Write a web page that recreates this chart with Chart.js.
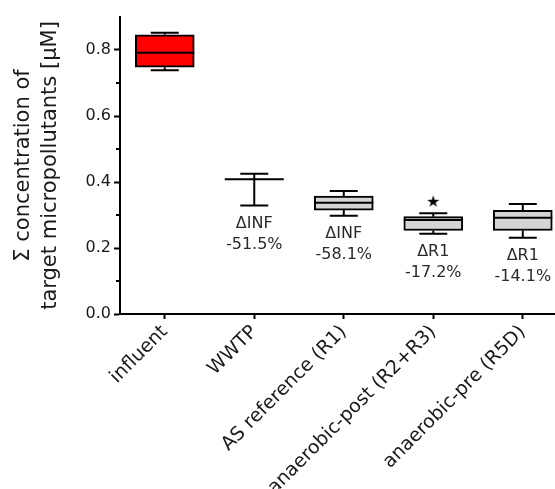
<!DOCTYPE html>
<html>
<head>
<meta charset="utf-8">
<script src="https://cdn.jsdelivr.net/npm/chart.js@4"></script>
<style>
html,body{margin:0;padding:0;background:#fff;overflow:hidden;}
#wrap{width:555px;height:489px;position:relative;}
</style>
</head>
<body>
<div id="wrap"><canvas id="c"></canvas></div>
<script>
// ---- data ----
const categories = ['influent', 'WWTP', 'AS reference (R1)', 'anaerobic-post (R2+R3)', 'anaerobic-pre (R5D)'];
const whiskerMin = [0.739, 0.329, 0.298, 0.243, 0.231];
const q1         = [0.748, 0.408, 0.315, 0.253, 0.253];
const median     = [0.792, 0.408, 0.337, 0.285, 0.292];
const q3         = [0.846, 0.408, 0.357, 0.295, 0.314];
const whiskerMax = [0.852, 0.425, 0.373, 0.305, 0.333];
const outlierValues = [null, null, null, 0.340, null];
const deltaRef = ['', '\u0394INF', '\u0394INF', '\u0394R1', '\u0394R1'];
const deltaPct = ['', '-51.5%', '-58.1%', '-17.2%', '-14.1%'];
const yTickValues = [0, 0.2, 0.4, 0.6, 0.8];
const yMinorTickValues = [0.1, 0.3, 0.5, 0.7];
const boxFill = ['#ff0000', '#d4d4d4', '#d4d4d4', '#d4d4d4', '#d4d4d4'];

const FONT = "'DejaVu Sans', sans-serif";
const TEXT = '#1a1a1a';

// star marker image for outlier points
const starImg = document.createElement('canvas');
starImg.width = 18; starImg.height = 18;
(function(){
  const c = starImg.getContext('2d');
  c.fillStyle = '#000';
  c.font = "16px 'DejaVu Sans'";
  c.textAlign = 'center';
  c.textBaseline = 'middle';
  c.fillText('\u2605', 9, 10);
})();

const boxPlugin = {
  id: 'boxParts',
  afterDatasetsDraw(chart) {
    const ctx = chart.ctx;
    const xs = chart.scales.x, ys = chart.scales.y;
    const boxW = 59, capW = 28;
    ctx.save();
    ctx.strokeStyle = '#000';
    ctx.lineWidth = 2;
    categories.forEach((c, i) => {
      const x = xs.getPixelForValue(i);
      const pMin = ys.getPixelForValue(whiskerMin[i]);
      const pQ1 = ys.getPixelForValue(q1[i]);
      const pMed = ys.getPixelForValue(median[i]);
      const pQ3 = ys.getPixelForValue(q3[i]);
      const pMax = ys.getPixelForValue(whiskerMax[i]);
      ctx.beginPath();
      ctx.moveTo(x, pQ3); ctx.lineTo(x, pMax);
      ctx.moveTo(x, pQ1); ctx.lineTo(x, pMin);
      ctx.moveTo(x - capW / 2, pMax); ctx.lineTo(x + capW / 2, pMax);
      ctx.moveTo(x - capW / 2, pMin); ctx.lineTo(x + capW / 2, pMin);
      ctx.moveTo(x - boxW / 2, pMed); ctx.lineTo(x + boxW / 2, pMed);
      ctx.stroke();
      if (deltaRef[i]) {
        ctx.fillStyle = '#2a2a2a';
        ctx.font = "16px " + FONT;
        ctx.textAlign = 'center';
        ctx.textBaseline = 'middle';
        ctx.fillText(deltaRef[i], x, pMin + 18);
        ctx.fillText(deltaPct[i], x, pMin + 39);
      }
    });
    ctx.beginPath();
    const ax = chart.chartArea.left;
    yMinorTickValues.forEach(v => {
      const py = Math.round(ys.getPixelForValue(v));
      ctx.moveTo(ax, py); ctx.lineTo(ax - 4, py);
    });
    ctx.stroke();
    ctx.restore();
  }
};

new Chart(document.getElementById('c'), {
  type: 'bar',
  data: {
    datasets: [
      {
        type: 'bar',
        data: categories.map((c, i) => ({ x: i, y: [q1[i], q3[i]] })),
        backgroundColor: boxFill,
        borderColor: '#000',
        borderWidth: 2,
        borderSkipped: false,
        barThickness: 59,
        order: 2
      },
      {
        type: 'scatter',
        data: outlierValues.map((v, i) => v == null ? null : ({ x: i, y: v })).filter(d => d),
        pointStyle: starImg,
        pointRadius: 8,
        order: 1
      }
    ]
  },
  options: {
    responsive: true,
    maintainAspectRatio: false,
    animation: false,
    devicePixelRatio: 1,
    layout: { autoPadding: false, padding: { top: 17, right: 0, left: 0, bottom: 0 } },
    plugins: { legend: { display: false }, tooltip: { enabled: false } },
    scales: {
      x: {
        type: 'linear',
        offset: false,
        min: -0.5,
        max: 4.36,
        afterBuildTicks: s => { s.ticks = categories.map((c, i) => ({ value: i })); },
        afterFit: s => { s.height = 175; s.paddingLeft = 0; s.paddingRight = 0; },
        grid: { display: true, offset: false, drawOnChartArea: false, drawTicks: true, tickLength: 5, tickWidth: 2, tickColor: '#000' },
        border: { display: true, color: '#000', width: 2 },
        ticks: {
          autoSkip: false,
          minRotation: 45,
          maxRotation: 45,
          padding: 2,
          color: TEXT,
          font: { family: FONT, size: 19 },
          callback: v => categories[v]
        }
      },
      y: {
        min: 0,
        max: 0.9,
        afterBuildTicks: s => { s.ticks = yTickValues.map(v => ({ value: v })); },
        afterFit: s => { s.width = 120; s.paddingTop = 0; s.paddingBottom = 0; },
        grid: { display: true, drawOnChartArea: false, drawTicks: true, tickLength: 6, tickWidth: 2, tickColor: '#000' },
        border: { display: true, color: '#000', width: 2 },
        ticks: {
          padding: 3,
          color: TEXT,
          font: { family: FONT, size: 16 },
          callback: v => v.toFixed(1)
        },
        title: {
          display: true,
          text: ['\u03A3 concentration of', 'target micropollutants [\u00B5M]'],
          color: TEXT,
          font: { family: FONT, size: 21, lineHeight: '26.7px' },
          padding: { top: 10, bottom: 0 }
        }
      }
    }
  },
  plugins: [boxPlugin]
});
</script>
</body>
</html>
